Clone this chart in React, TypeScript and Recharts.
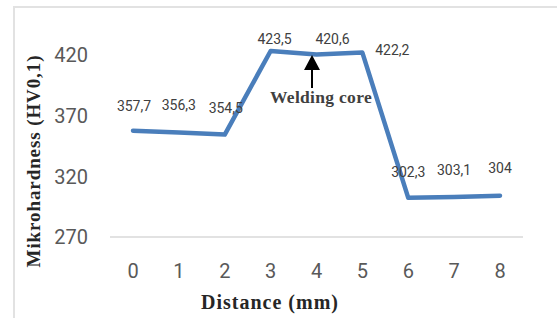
import { LineChart, Line, XAxis, YAxis, LabelList } from 'recharts';

const distances = ['0', '1', '2', '3', '4', '5', '6', '7', '8'];
const hardness = [357.7, 356.3, 354.5, 423.5, 420.6, 422.2, 302.3, 303.1, 304];
const yTicks = [270, 320, 370, 420];

// hand-placed label nudges, like the original Excel chart
const labelShift: [number, number][] = [
  [1, -25], [0, -27], [1, -27], [4, -12], [16, -16], [30, -3], [0, -26], [0, -27], [0, -28],
];

const data = distances.map((d, i) => ({ distance: d, hv: hardness[i] }));

const fmt = (v: number) => String(v).replace('.', ',');

const renderValue = (props: any) => {
  const { x, y, value, index } = props;
  const [dx, dy] = labelShift[index] || [0, -25];
  return (
    <text
      x={x + dx}
      y={y + dy}
      textAnchor="middle"
      dominantBaseline="central"
      fill="#404040"
      fontSize={14}
      fontFamily="Roboto, sans-serif"
    >
      {fmt(value)}
    </text>
  );
};

const titleFont = '"Liberation Serif", "Times New Roman", serif';

export default function App() {
  return (
    <div style={{ position: 'absolute', left: 0, top: 0, width: 557, height: 318, background: '#fff' }}>
      <div
        style={{
          position: 'absolute',
          left: 13,
          top: 6,
          right: 0,
          bottom: 0,
          borderTop: '2px solid #e2e2e2',
          borderLeft: '2px solid #e2e2e2',
        }}
      />
      <LineChart
        width={557}
        height={318}
        data={data}
        margin={{ top: 31, right: 34, bottom: 21, left: 14 }}
        style={{ position: 'absolute', left: 0, top: 0 }}
      >
        <XAxis
          dataKey="distance"
          padding={{ left: 23, right: 23 }}
          axisLine={{ stroke: '#d9d9d9', strokeWidth: 1.5 }}
          tickLine={false}
          tickSize={0}
          tickMargin={27}
          height={60}
          tick={{ fill: '#595959', fontSize: 20, fontFamily: 'Roboto, sans-serif' }}
          label={{
            content: () => (
              <text
                x={270}
                y={302}
                textAnchor="middle"
                dominantBaseline="central"
                fontFamily={titleFont}
                fontWeight="bold"
                fontSize={20}
                letterSpacing={1}
                fill="#262626"
              >
                Distance (mm)
              </text>
            ),
          }}
        />
        <YAxis
          domain={[270, 440]}
          ticks={yTicks}
          width={96}
          axisLine={false}
          tickLine={false}
          tickSize={0}
          tickMargin={22}
          tick={{ fill: '#595959', fontSize: 20, fontFamily: 'Roboto, sans-serif' }}
          label={{
            content: () => (
              <text
                x={33}
                y={161}
                transform="rotate(-90 33 161)"
                textAnchor="middle"
                dominantBaseline="central"
                fontFamily={titleFont}
                fontWeight="bold"
                fontSize={19}
                letterSpacing={0.9}
                fill="#262626"
              >
                Mikrohardness (HV0,1)
              </text>
            ),
          }}
        />
        <Line
          type="linear"
          dataKey="hv"
          stroke="#4a7ebb"
          strokeWidth={4.5}
          strokeLinecap="round"
          strokeLinejoin="round"
          dot={false}
          activeDot={false}
          isAnimationActive={false}
        >
          <LabelList dataKey="hv" content={renderValue} />
        </Line>
      </LineChart>
      <svg
        width={557}
        height={318}
        style={{ position: 'absolute', left: 0, top: 0, pointerEvents: 'none' }}
      >
        <line x1={312} y1={88} x2={312} y2={68} stroke="#000" strokeWidth={2} />
        <polygon points="312,55 304,70 320,70" fill="#000" />
        <text
          x={321}
          y={97}
          textAnchor="middle"
          dominantBaseline="central"
          fontFamily={titleFont}
          fontWeight="bold"
          fontSize={17.5}
          letterSpacing={0.3}
          fill="#404040"
        >
          Welding core
        </text>
      </svg>
    </div>
  );
}
